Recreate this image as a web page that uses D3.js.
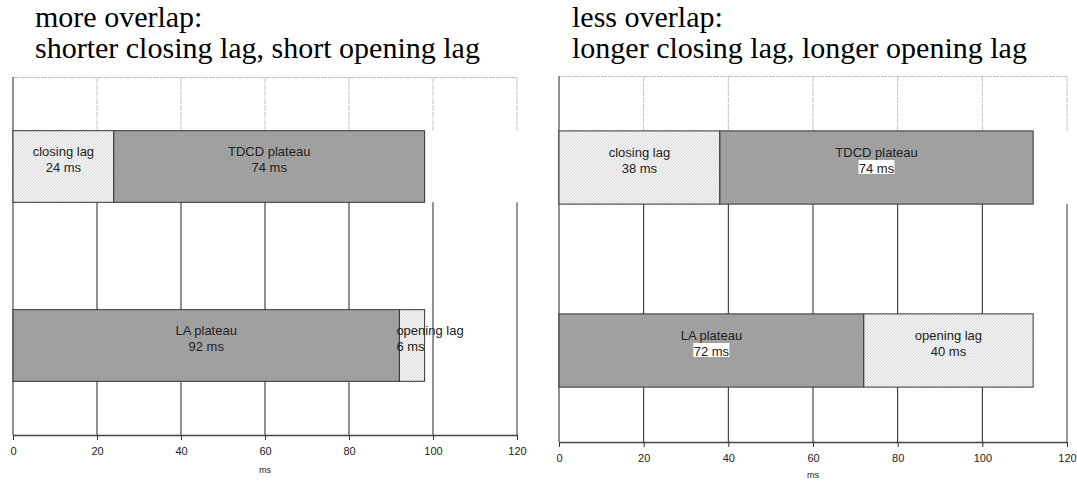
<!DOCTYPE html>
<html><head><meta charset="utf-8">
<script src="https://cdn.jsdelivr.net/npm/d3@7"></script>
<style>body{margin:0;background:#fff}svg{display:block}</style>
</head><body>
<svg id="c" width="1077" height="481"></svg>
<script>
// ---- data ----
const categories = ["TDCD", "LA"];
const topSegmentNames = ["closing lag", "TDCD plateau"];
const bottomSegmentNames = ["LA plateau", "opening lag"];
const leftTopValues = [24, 74];
const leftBottomValues = [92, 6];
const rightTopValues = [38, 74];
const rightBottomValues = [72, 40];
const xTicks = [0, 20, 40, 60, 80, 100, 120];
const leftTitle = ["more overlap:", "shorter closing lag, short opening lag"];
const rightTitle = ["less overlap:", "longer closing lag, longer opening lag"];
const axisTitle = "ms";

const svg = d3.select("#c");
const defs = svg.append("defs");
const pat = defs.append("pattern").attr("id", "hatch").attr("patternUnits", "userSpaceOnUse")
  .attr("width", 3).attr("height", 3);
pat.append("rect").attr("width", 3).attr("height", 3).attr("fill", "#f3f3f3");
pat.append("path").attr("d", "M-1,1 L1,-1 M0,3 L3,0 M2,4 L4,2").attr("stroke", "#d2d2d2").attr("stroke-width", 0.8);

function drawChart(cfg) {
  const g = svg.append("g");
  const x = d3.scaleLinear().domain([0, 120]).range([cfg.x0, cfg.x1]);
  const y = d3.scaleBand().domain(categories).range([cfg.y0, cfg.y1]).paddingInner(0.6).paddingOuter(0.3);
  const rows = [
    {cat: categories[0], names: topSegmentNames, vals: cfg.top},
    {cat: categories[1], names: bottomSegmentNames, vals: cfg.bottom}
  ];
  const topBarY = y(categories[0]);
  const topBarB = topBarY + y.bandwidth();
  // upper light gridlines
  g.selectAll(".gl").data(xTicks.slice(1)).join("line")
    .attr("x1", d => x(d)).attr("x2", d => x(d)).attr("y1", cfg.y0).attr("y2", topBarY)
    .attr("stroke", "#c4c4c4").attr("stroke-dasharray", "6,1");
  g.append("line").attr("x1", x(0)).attr("x2", x(120)).attr("y1", cfg.y0 + 0.5).attr("y2", cfg.y0 + 0.5)
    .attr("stroke", "#c4c4c4").attr("stroke-dasharray", "6,1");
  // lower dark gridlines
  g.selectAll(".gd").data(xTicks.slice(1, -1)).join("line")
    .attr("x1", d => x(d)).attr("x2", d => x(d)).attr("y1", topBarB).attr("y2", cfg.y1)
    .attr("stroke", "#222");
  g.append("line").attr("x1", x(120)).attr("x2", x(120)).attr("y1", topBarB).attr("y2", cfg.y1)
    .attr("stroke", "#777").attr("stroke-width", 1.5);
  // left axis line
  g.append("line").attr("x1", x(0)).attr("x2", x(0)).attr("y1", cfg.y0).attr("y2", cfg.y1).attr("stroke", "#222");

  // bars
  rows.forEach(r => {
    let acc = 0;
    r.vals.forEach((v, i) => {
      const name = r.names[i];
      const isLag = name.indexOf("lag") >= 0;
      const xs = x(acc), xe = x(acc + v);
      g.append("rect").attr("x", xs).attr("y", y(r.cat)).attr("width", xe - xs).attr("height", y.bandwidth())
        .attr("fill", isLag ? "url(#hatch)" : "#a0a0a0").attr("stroke", "#333").attr("stroke-width", 1);
      const cy = y(r.cat) + y.bandwidth() / 2;
      const narrow = (xe - xs) < 50;
      const tx = narrow ? xs - 3 : (xs + xe) / 2;
      const anchor = narrow ? "start" : "middle";
      g.append("text").attr("x", tx).attr("y", cy - 15).attr("dy", "0.35em").attr("text-anchor", anchor)
        .attr("font-family", "Liberation Sans, Arial, sans-serif").attr("font-size", 13).attr("fill", "#222").text(name);
      const label2 = v + " ms";
      if (cfg.whiteBox && !isLag) {
        const w = 36, h = 14;
        g.append("rect").attr("x", tx - w / 2).attr("y", cy - h / 2 - 0.5).attr("width", w).attr("height", h).attr("fill", "#fff");
      }
      g.append("text").attr("x", tx).attr("y", cy + 1).attr("dy", "0.35em").attr("text-anchor", anchor)
        .attr("font-family", "Liberation Sans, Arial, sans-serif").attr("font-size", 13).attr("fill", "#222").text(label2);
      acc += v;
    });
  });

  // x axis
  const ax = g.append("g").attr("transform", `translate(0,${cfg.y1})`)
    .call(d3.axisBottom(x).tickValues(xTicks).tickSize(5).tickSizeOuter(0).tickPadding(7));
  ax.select(".domain").attr("stroke", "#444").attr("stroke-width", 1.5);
  ax.selectAll(".tick line").attr("stroke", "#333");
  ax.selectAll("text").attr("font-family", "Liberation Sans, Arial, sans-serif").attr("font-size", 11).attr("fill", "#222");
  g.append("text").attr("x", (cfg.x0 + cfg.x1) / 2).attr("y", cfg.msY).attr("text-anchor", "middle")
    .attr("font-family", "Liberation Sans, Arial, sans-serif").attr("font-size", 9).attr("fill", "#222").text(axisTitle);

  // title
  cfg.title.forEach((t, i) => {
    g.append("text").attr("x", cfg.tx).attr("y", 27 + i * 31)
      .attr("font-family", "Liberation Serif, Times New Roman, serif").attr("font-size", 30).attr("fill", "#000").text(t);
  });
}

drawChart({x0: 13, x1: 517, y0: 77, y1: 435, top: leftTopValues, bottom: leftBottomValues, title: leftTitle, tx: 35, msY: 473, whiteBox: false});
drawChart({x0: 559, x1: 1067, y0: 76, y1: 442, top: rightTopValues, bottom: rightBottomValues, title: rightTitle, tx: 572, msY: 478, whiteBox: true});
</script>
</body></html>
